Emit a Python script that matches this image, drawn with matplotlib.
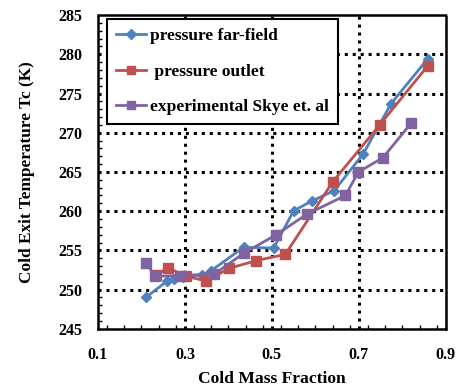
import matplotlib
matplotlib.use("Agg")
import matplotlib.pyplot as plt
from matplotlib.ticker import MultipleLocator

far_x = [0.21, 0.258, 0.276, 0.295, 0.34, 0.36, 0.435, 0.504, 0.55, 0.592, 0.643, 0.71, 0.774, 0.858]
far_y = [249.0, 251.05, 251.3, 251.6, 251.9, 252.4, 255.4, 255.3, 260.05, 261.3, 262.6, 267.3, 273.7, 279.4]

out_x = [0.234, 0.261, 0.303, 0.349, 0.401, 0.464, 0.531, 0.64, 0.748, 0.858]
out_y = [251.85, 252.8, 251.7, 251.1, 252.7, 253.7, 254.5, 263.75, 271.0, 278.5]

exp_x = [0.211, 0.232, 0.289, 0.368, 0.437, 0.51, 0.58, 0.669, 0.699, 0.755, 0.82]
exp_y = [253.4, 251.7, 251.8, 252.0, 254.7, 257.0, 259.6, 262.0, 265.0, 266.8, 271.2]

labels = ["pressure far-field", " pressure outlet", "experimental Skye et. al"]
xticks = [0.1, 0.3, 0.5, 0.7, 0.9]
yticks = [245, 250, 255, 260, 265, 270, 275, 280, 285]

plt.rcParams['font.family'] = ['Liberation Serif', 'DejaVu Serif']
plt.rcParams['font.weight'] = 'bold'

fig = plt.figure(figsize=(4.62, 3.86), dpi=100)
ax = fig.add_axes([0.212, 0.148, 0.753, 0.813])

ax.plot(far_x, far_y, color='#4F81BD', lw=2, marker='D', ms=5.5, label=labels[0], zorder=3)
ax.plot(out_x, out_y, color='#C0504D', lw=2, marker='s', ms=7.5, label=labels[1], zorder=3)
ax.plot(exp_x, exp_y, color='#8064A2', lw=2, marker='s', ms=7.5, label=labels[2], zorder=3)

ax.set_xlim(0.1, 0.9)
ax.set_ylim(245, 285)
ax.set_xticks(xticks)
ax.set_xticklabels([f"{v:.1f}" for v in xticks])
ax.set_yticks(yticks)
ax.xaxis.set_minor_locator(MultipleLocator(0.04))
ax.yaxis.set_minor_locator(MultipleLocator(1))
ax.tick_params(which='both', direction='in', color='black', labelsize=11.5)
ax.tick_params(axis='x', which='major', pad=13)
ax.tick_params(axis='y', which='major', pad=11)
ax.tick_params(which='major', length=0)
ax.tick_params(which='minor', length=3, width=1)
for lab in ax.get_xticklabels() + ax.get_yticklabels():
    lab.set_fontweight('bold')

for v in xticks[1:-1]:
    ax.axvline(v, color='black', lw=2.2, ls=(0, (1, 1.6)), zorder=1)
for v in yticks[1:-1]:
    ax.axhline(v, color='black', lw=2.2, ls=(0, (1, 1.6)), zorder=1)

for s in ax.spines.values():
    s.set_linestyle((0, (1, 1)))
    s.set_linewidth(1.8)
    s.set_color('black')

ax.set_xlabel("Cold Mass Fraction", fontsize=12.6, fontweight='bold', labelpad=6)
ax.set_ylabel("Cold Exit Temperature Tc (K)", fontsize=12.4, fontweight='bold', labelpad=17)

leg = ax.legend(loc='upper left', bbox_to_anchor=(0.026, 0.986), frameon=True, fancybox=False,
                edgecolor='black', framealpha=1, prop={'weight': 'bold', 'size': 12.5},
                handlelength=1.75, handletextpad=0.25, labelspacing=1.12, borderpad=0.5,
                borderaxespad=0, markerscale=0.85)
leg.get_frame().set_linewidth(1.5)

fig.savefig("out.png", dpi=100)
